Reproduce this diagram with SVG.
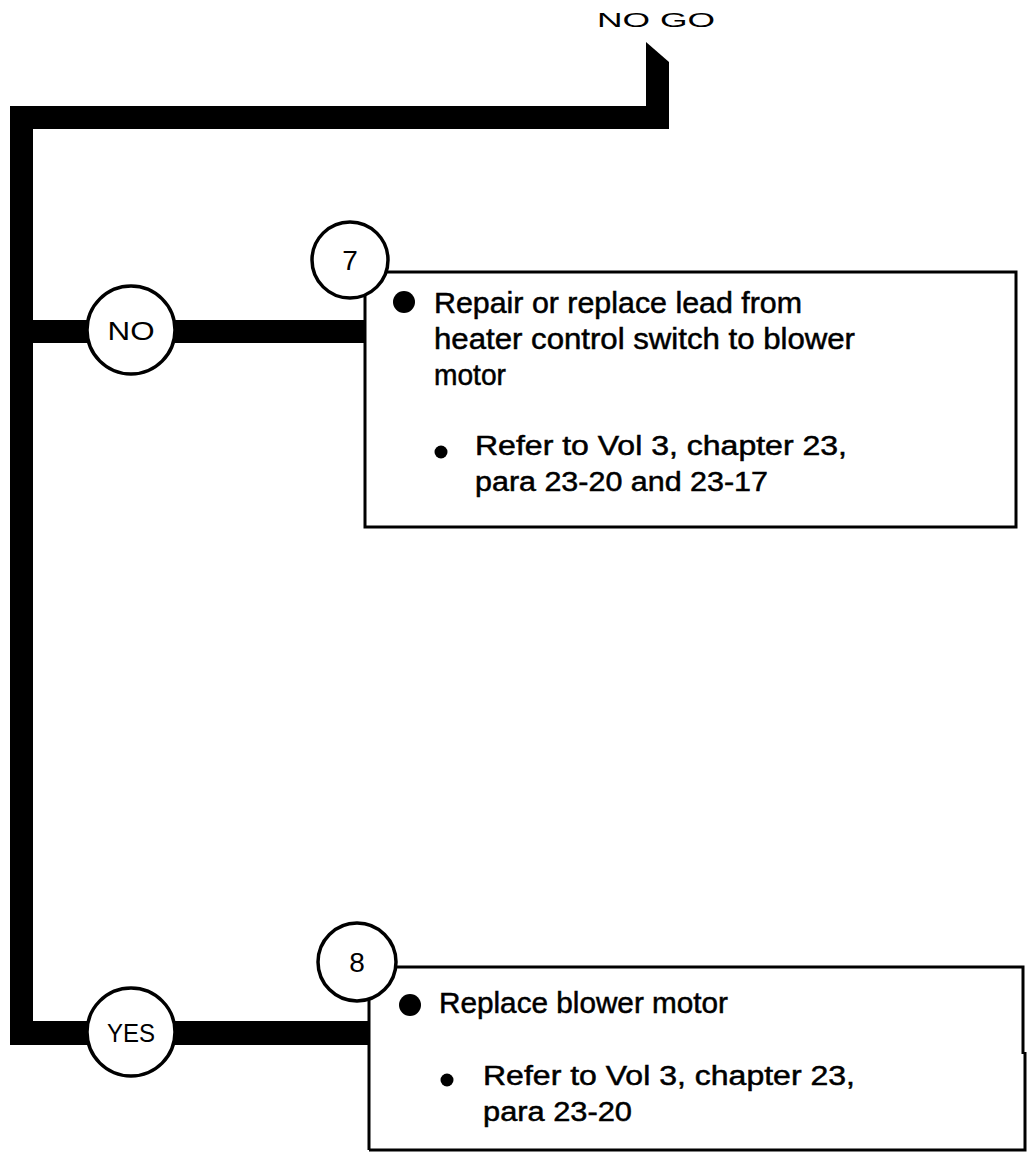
<svg xmlns="http://www.w3.org/2000/svg" width="1028" height="1154" viewBox="0 0 1028 1154">
<style>
  .bar { fill: #000; }
  .box { fill: none; stroke: #000; stroke-width: 3; }
  .ring { fill: #fff; stroke: #000; stroke-width: 3.5; }
  .lbl { font-family: "Liberation Sans", Arial, sans-serif; fill: #000; text-anchor: middle; }
  .txt { font-family: "Liberation Sans", Arial, sans-serif; fill: #000; font-size: 29px; stroke: #000; stroke-width: 0.5; }
  .sub { font-family: "Liberation Sans", Arial, sans-serif; fill: #000; font-size: 27px; stroke: #000; stroke-width: 0.5; }
</style>
<rect width="1028" height="1154" fill="#fff"/>
<text x="597" y="27" font-family="Liberation Sans, Arial, sans-serif" font-size="21" textLength="118" lengthAdjust="spacingAndGlyphs">NO GO</text>
<g id="connectors">
  <polygon class="bar" points="646,42 669,62 669,129 646,129"/>
  <rect class="bar" x="10" y="106" width="659" height="23"/>
  <rect class="bar" x="10" y="106" width="23" height="939"/>
  <rect class="bar" x="33" y="320" width="332" height="23"/>
  <rect class="bar" x="33" y="1021" width="336" height="24"/>
</g>
<g id="node-no">
  <circle class="ring" cx="131" cy="330" r="44"/>
  <text class="lbl" x="131" y="340" font-size="26" textLength="47" lengthAdjust="spacingAndGlyphs">NO</text>
</g>
<g id="node-yes">
  <circle class="ring" cx="131" cy="1032" r="44"/>
  <text class="lbl" x="131" y="1042" font-size="26" textLength="48" lengthAdjust="spacingAndGlyphs">YES</text>
</g>
<g id="node-7">
  <rect class="box" x="365" y="272" width="651" height="255"/>
  <circle class="ring" cx="350" cy="260" r="38"/>
  <text class="lbl" x="350" y="270" font-size="28">7</text>
  <circle cx="404" cy="302" r="11" fill="#000"/>
  <text class="txt" x="434" y="313" textLength="368" lengthAdjust="spacingAndGlyphs">Repair or replace lead from</text>
  <text class="txt" x="434" y="349" textLength="421" lengthAdjust="spacingAndGlyphs">heater control switch to blower</text>
  <text class="txt" x="434" y="385" textLength="72" lengthAdjust="spacingAndGlyphs">motor</text>
  <circle cx="441" cy="452" r="6.5" fill="#000"/>
  <text class="sub" x="475" y="455" textLength="372" lengthAdjust="spacingAndGlyphs">Refer to Vol 3, chapter 23,</text>
  <text class="sub" x="475" y="491" textLength="293" lengthAdjust="spacingAndGlyphs">para 23-20 and 23-17</text>
</g>
<g id="node-8">
  <path class="box" d="M369,1150 V967 H1023 V1054 M1025,1052 V1150 H369"/>
  <circle class="ring" cx="357" cy="962" r="39"/>
  <text class="lbl" x="357" y="972" font-size="28">8</text>
  <circle cx="410" cy="1005" r="11" fill="#000"/>
  <text class="txt" x="439" y="1013" textLength="289" lengthAdjust="spacingAndGlyphs">Replace blower motor</text>
  <circle cx="447" cy="1080" r="6.5" fill="#000"/>
  <text class="sub" x="483" y="1085" textLength="372" lengthAdjust="spacingAndGlyphs">Refer to Vol 3, chapter 23,</text>
  <text class="sub" x="483" y="1121" textLength="149" lengthAdjust="spacingAndGlyphs">para 23-20</text>
</g>
</svg>
